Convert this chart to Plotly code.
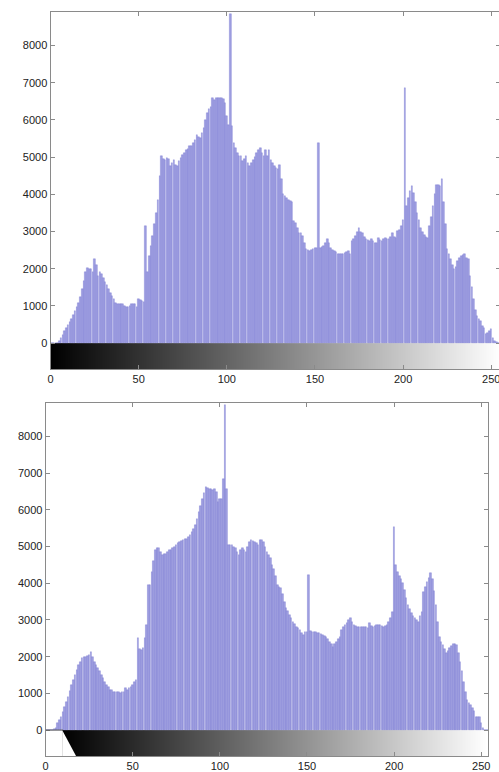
import plotly.graph_objects as go

# grey levels 0..255
niveis = list(range(256))

# histograma superior (contagem por nivel de cinza)
hist_orig = [
    0, 0, 0, 0, 10, 60, 150, 230, 320, 400,
    500, 580, 660, 760, 870, 980, 1090, 1250, 1450, 1670,
    1900, 2030, 1990, 1980, 1900, 2250, 2100, 1800, 1900, 1850,
    1750, 1630, 1550, 1450, 1350, 1270, 1180, 1090, 1060, 1045,
    1040, 1050, 1000, 980, 960, 1000, 1045, 1040, 1045, 960,
    1180, 1150, 1135, 1110, 3150, 1900, 2340, 2600, 2880, 3200,
    3500, 3860, 4490, 5020, 4950, 4930, 4980, 4950, 4760, 4850,
    4930, 4800, 4760, 4900, 4980, 5050, 5110, 5200, 5230, 5290,
    5300, 5380, 5450, 5600, 5550, 5515, 5650, 5780, 6000, 6180,
    6300, 6360, 6590, 6540, 6600, 6590, 6600, 6590, 6550, 6450,
    6100, 5850, 8850, 5830, 5380, 5250, 5110, 5020, 5020, 4890,
    4950, 5020, 4850, 4760, 4850, 4930, 5000, 5110, 5200, 5250,
    5100, 5020, 5200, 5020, 5200, 4930, 4850, 4760, 4700, 4670,
    4800, 4400, 4000, 3950, 3900, 3850, 3820, 3800, 3280, 3240,
    3100, 2970, 2950, 2880, 2700, 2520, 2500, 2480, 2500, 2520,
    2550, 2570, 5380, 2570, 2580, 2610, 2700, 2790, 2700, 2570,
    2500, 2480, 2450, 2390, 2400, 2390, 2400, 2430, 2450, 2480,
    2390, 2740, 2800, 2880, 3000, 3100, 3000, 2970, 2850, 2790,
    2760, 2740, 2790, 2750, 2700, 2700, 2830, 2780, 2740, 2800,
    2830, 2800, 2790, 2850, 2970, 2850, 2830, 3010, 3050, 3150,
    3300, 6860, 3680, 3900, 4090, 4220, 4040, 3800, 3500, 3300,
    3100, 3000, 2920, 2850, 2830, 3150, 3400, 3680, 4000, 4260,
    4250, 4220, 4400, 3800, 3190, 2520, 2400, 2250, 2100, 1985,
    2050, 2210, 2280, 2340, 2380, 2390, 2300, 2250, 1800, 1500,
    1180, 900, 735, 645, 600, 465, 400, 240, 280, 330,
    375, 150, 60, 20, 0, 0,
]

# histograma inferior
hist_eq = [
    0, 0, 0, 0, 0, 30, 50, 190, 280, 370,
    500, 640, 780, 915, 1070, 1230, 1370, 1500, 1640, 1775,
    1870, 1960, 1990, 2000, 2030, 2050, 2140, 1990, 1870, 1780,
    1685, 1600, 1500, 1410, 1320, 1230, 1170, 1100, 1080, 1050,
    1050, 1050, 1030, 1005, 1030, 1050, 1140, 1100, 1140, 1180,
    1230, 1300, 1370, 2500, 2200, 2180, 2230, 2500, 2860, 3950,
    3950, 4310, 4600, 4900, 4950, 4950, 4850, 4770, 4800, 4810,
    4850, 4900, 4920, 4950, 5000, 5040, 5100, 5130, 5150, 5170,
    5200, 5220, 5270, 5310, 5400, 5490, 5600, 5760, 5950, 6120,
    6310, 6450, 6620, 6600, 6580, 6560, 6530, 6580, 6500, 6215,
    6310, 6300, 6850, 8850, 6580, 5040, 5040, 5040, 5000, 4950,
    4850, 4770, 4900, 4950, 4900, 4860, 5000, 5130, 5170, 5150,
    5130, 5100, 5040, 5170, 5170, 5130, 5000, 4860, 4760, 4680,
    4500, 4400, 4200, 3950, 3900, 3860, 3700, 3500, 3320, 3250,
    3135, 3050, 2950, 2900, 2820, 2780, 2730, 2650, 2590, 2680,
    2680, 4220, 2700, 2680, 2680, 2680, 2660, 2640, 2610, 2590,
    2570, 2550, 2480, 2410, 2340, 2270, 2340, 2410, 2480, 2550,
    2730, 2800, 2860, 2930, 3000, 3045, 2950, 2860, 2840, 2820,
    2820, 2820, 2800, 2820, 2800, 2770, 2910, 2850, 2820, 2840,
    2860, 2860, 2860, 2840, 2820, 2840, 2860, 2950, 3045, 3225,
    5540, 4490, 4310, 4200, 4130, 4000, 3815, 3600, 3405, 3300,
    3180, 3100, 3045, 3000, 2950, 3100, 3225, 3770, 3900, 4040,
    4150, 4270, 4130, 3800, 3405, 2950, 2550, 2400, 2320, 2200,
    2090, 2150, 2230, 2300, 2360, 2340, 2320, 2100, 1870, 1600,
    1320, 1050, 825, 750, 690, 600, 510, 370, 370, 370,
    190, 50, 10, 0, 0, 0,
]

y_ticks = [0, 1000, 2000, 3000, 4000, 5000, 6000, 7000, 8000]
x_ticks = [0, 50, 100, 150, 200, 250]

# figura um pouco mais larga que a janela: o eixo de cima sai cortado na direita
W, H = 506, 772
cor_barra = "rgb(160,160,224)"
cor_borda = "rgb(110,110,205)"
cinza = [[0, "black"], [1, "white"]]

fig = go.Figure()

# barra de gradiente (topo)
fig.add_trace(go.Heatmap(z=[niveis], x=[i for i in range(257)], y=[-697, 0],
                         colorscale=cinza, showscale=False, hoverinfo="skip",
                         xaxis="x", yaxis="y"))
# barra de gradiente (baixo) - comeca deslocada
fig.add_trace(go.Heatmap(z=[niveis], x=[9.5 + i * (254 - 9.5) / 256 for i in range(257)],
                         y=[-707, 0], colorscale=cinza, showscale=False,
                         hoverinfo="skip", xaxis="x2", yaxis="y2"))

fig.add_trace(go.Bar(x=niveis, y=hist_orig, width=0.9, marker_color=cor_barra,
                     marker_line=dict(color=cor_borda, width=0.35),
                     xaxis="x", yaxis="y"))
fig.add_trace(go.Bar(x=niveis, y=hist_eq, width=0.9, marker_color=cor_barra,
                     marker_line=dict(color=cor_borda, width=0.35),
                     xaxis="x2", yaxis="y2"))

eixo = dict(showline=True, linecolor="#8a8a8a", linewidth=1, mirror="ticks",
            ticks="inside", ticklen=4, tickcolor="#8a8a8a", showgrid=False,
            zeroline=False, tickfont=dict(family="Liberation Sans", size=11, color="#222"))

fig.update_layout(
    width=W, height=H,
    margin=dict(l=0, r=0, t=0, b=0),
    paper_bgcolor="white", plot_bgcolor="white",
    showlegend=False, bargap=0,
    xaxis=dict(eixo, domain=[48 / W, 502 / W], range=[0, 255], tickvals=x_ticks,
               anchor="y"),
    yaxis=dict(eixo, domain=[1 - 370 / H, 1 - 12 / H], range=[-697, 8900],
               tickvals=y_ticks, anchor="x"),
    xaxis2=dict(eixo, domain=[43 / W, 490 / W], range=[0, 254], tickvals=x_ticks,
                anchor="y2"),
    yaxis2=dict(eixo, domain=[1 - 758 / H, 1 - 404 / H], range=[-707, 8913],
                tickvals=y_ticks, anchor="x2"),
    shapes=[
        dict(type="path", path="M 9.5,0 L 17.5,-707 L 9.5,-707 Z", xref="x2", yref="y2",
             fillcolor="white", line=dict(width=0)),
        dict(type="line", x0=0, x1=10, y0=0, y1=0, xref="x2", yref="y2",
             line=dict(color="#555", width=1)),
    ],
)

# tira a margem padrao da pagina e a barra de rolagem
fig.write_html("out.html", config={"displayModeBar": False},
               post_script="document.body.style.margin='0';"
                           "document.body.style.overflow='hidden';")
